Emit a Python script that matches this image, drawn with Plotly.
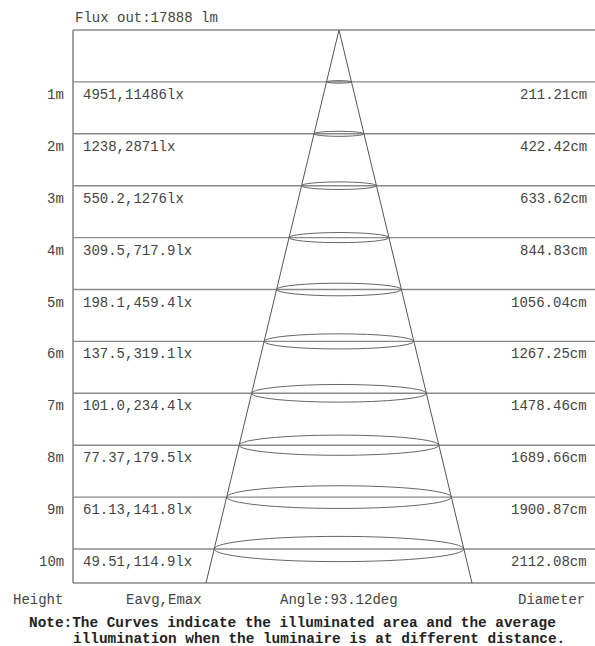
import math
import plotly.graph_objects as go

# ---------------- data ----------------
flux_out = "17888 lm"
beam_angle = 93.12  # deg
heights = [1, 2, 3, 4, 5, 6, 7, 8, 9, 10]
eavg = ["4951", "1238", "550.2", "309.5", "198.1", "137.5", "101.0", "77.37", "61.13", "49.51"]
emax = ["11486", "2871", "1276", "717.9", "459.4", "319.1", "234.4", "179.5", "141.8", "114.9"]
diameters = [211.21, 422.42, 633.62, 844.83, 1056.04, 1267.25, 1478.46, 1689.66, 1900.87, 2112.08]

# ---------------- layout geometry ----------------
W, H = 595, 646
TOP_PX = 30.0        # pixel row of the 0 m line
PX_PER_M = 51.9      # vertical scale
APEX_PX = 339.0      # pixel column of the apex (0 cm)
CM_PER_PX = 8.46     # horizontal scale
BOX_LEFT_PX = 73.0
BOTTOM_DEPTH = 10.655  # m, bottom of frame
ELL_RATIO = 0.101      # vertical/horizontal ellipse ratio (in pixels)

def px2x(px):
    return (px - APEX_PX) * CM_PER_PX

def py2y(py):
    return (py - TOP_PX) / PX_PER_M

x_range = [px2x(0), px2x(W)]
y_range = [py2y(H), py2y(0)]  # reversed

FONT = "Courier New, Liberation Mono, monospace"
TXT = "#444444"
GRID = "#8a8a8a"
CONE = "#555555"

fig = go.Figure()

shapes = []
# frame: top line, left border, bottom line
shapes.append(dict(type="line", x0=px2x(BOX_LEFT_PX), x1=px2x(W + 5), y0=0, y1=0,
                   line=dict(color=GRID, width=1.6)))
shapes.append(dict(type="line", x0=px2x(BOX_LEFT_PX), x1=px2x(BOX_LEFT_PX), y0=0, y1=BOTTOM_DEPTH,
                   line=dict(color=GRID, width=1.6)))
shapes.append(dict(type="line", x0=px2x(BOX_LEFT_PX), x1=px2x(W + 5), y0=BOTTOM_DEPTH, y1=BOTTOM_DEPTH,
                   line=dict(color=GRID, width=1.6)))
# distance lines
for h in heights:
    shapes.append(dict(type="line", x0=px2x(BOX_LEFT_PX), x1=px2x(W + 5), y0=h, y1=h,
                       line=dict(color=GRID, width=1.4)))

# cone from beam angle
half_tan = math.tan(math.radians(beam_angle / 2)) * 100.0  # cm radius per m
for s in (-1, 1):
    shapes.append(dict(type="line", x0=0, y0=0, x1=s * half_tan * BOTTOM_DEPTH, y1=BOTTOM_DEPTH,
                       line=dict(color=CONE, width=1)))

# ellipses
for h, d in zip(heights, diameters):
    a_cm = d / 2.0
    b_m = (a_cm / CM_PER_PX) * ELL_RATIO / PX_PER_M
    shapes.append(dict(type="circle", x0=-a_cm, x1=a_cm, y0=h - b_m, y1=h + b_m,
                       line=dict(color="#666666", width=1)))

annotations = []
def txt(text, xpx, ypx_or_y, anchor, size=14, color=TXT, bold=False, yd=False):
    y = ypx_or_y if yd else py2y(ypx_or_y)
    annotations.append(dict(
        text=("<b>%s</b>" % text) if bold else text,
        x=px2x(xpx), y=y, xref="x", yref="y",
        xanchor=anchor, yanchor="middle", showarrow=False,
        font=dict(family=FONT, size=size, color=color)))

txt("Flux out:" + flux_out, 73, 18, "left")
row_off = 13.0 / PX_PER_M
for h, ea, em, d in zip(heights, eavg, emax, diameters):
    txt("%dm" % h, 66, h + row_off, "right", yd=True)
    txt("%s,%slx" % (ea, em), 81, h + row_off, "left", yd=True)
    txt("%.2fcm" % d, 589, h + row_off, "right", yd=True)

txt("Height", 65, 600, "right")
txt("Eavg,Emax", 163.5, 600, "center")
txt("Angle:%.2fdeg" % beam_angle, APEX_PX, 600, "center")
txt("Diameter", 587, 600, "right")
txt("Note:The Curves indicate the illuminated area and the average", 27, 623, "left",
    size=14.4, color="#222222", bold=True)
txt("illumination when the luminaire is at different distance.", 71, 639, "left",
    size=14.4, color="#222222", bold=True)

fig.update_layout(
    width=W, height=H,
    margin=dict(l=0, r=0, t=0, b=0),
    paper_bgcolor="white", plot_bgcolor="white",
    xaxis=dict(range=x_range, visible=False, fixedrange=True),
    yaxis=dict(range=y_range, visible=False, fixedrange=True),
    shapes=shapes, annotations=annotations, showlegend=False,
)

fig.write_html("out.html", config={"displayModeBar": False},
               post_script="document.body.style.margin='0';document.body.style.overflow='hidden';")
